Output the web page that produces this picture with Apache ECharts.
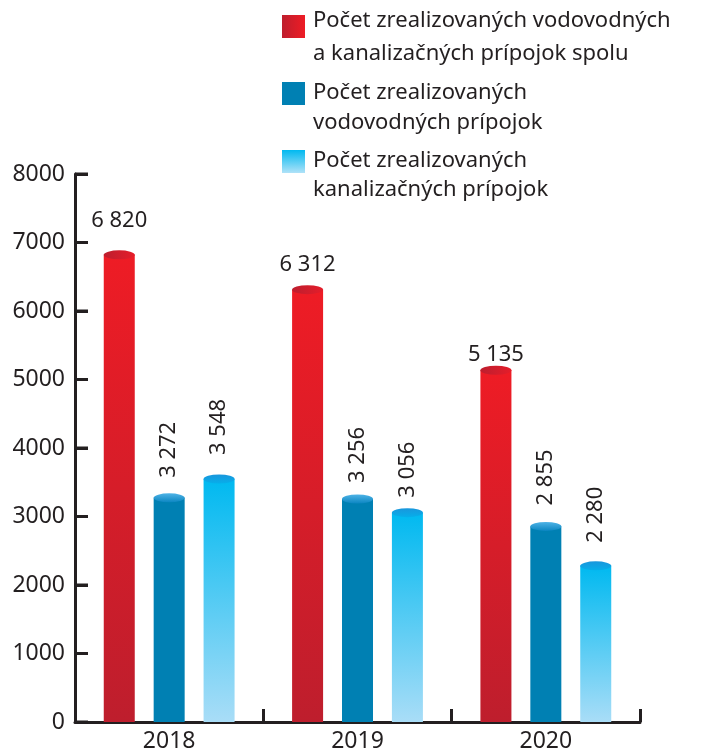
<!DOCTYPE html>
<html>
<head>
<meta charset="utf-8">
<script src="https://cdn.jsdelivr.net/npm/echarts@6/dist/echarts.min.js"></script>
<style>
  html, body { margin: 0; padding: 0; background: #fff; }
  #chart { width: 702px; height: 753px; }
</style>
</head>
<body>
<div id="chart"></div>
<script>
// roky
var years = ['2018', '2019', '2020'];
// spolu, vodovodne, kanalizacne
var spolu = [6820, 6312, 5135];
var vodovodne = [3272, 3256, 2855];
var kanalizacne = [3548, 3056, 2280];
var nazvy = [
    ['Počet zrealizovaných vodovodných', 'a kanalizačných prípojok spolu'],
    ['Počet zrealizovaných', 'vodovodných prípojok'],
    ['Počet zrealizovaných', 'kanalizačných prípojok']
];
var yTicks = { min: 0, max: 8000, interval: 1000 };

// odstupy popisov od stlpca (rucne ako v predlohe)
var distSpolu = [23, 14, 5];
var distVod = [20, 16, 21];
var distKan = [24, 15, 23];

var TXT = '#231f20';
var FONT = 'Noto Sans';
var GRID_LEFT = 75;

function grad(x2, y2, c0, c1) {
    return new echarts.graphic.LinearGradient(0, 0, x2, y2, [
        { offset: 0, color: c0 },
        { offset: 1, color: c1 }
    ]);
}

//cislo s medzerou
function fmt(p) {
    return String(p.value).replace(/\B(?=(\d{3})+(?!\d))/g, ' ');
}

function sDist(vals, dist) {
    return vals.map(function (v, i) {
        return { value: v, label: { distance: dist[i] } };
    });
}

var barW = 31;
var gap = '61%';

function stlpec(name, data, color, label) {
    return {
        name: name,
        type: 'bar',
        data: data,
        barWidth: barW,
        barGap: gap,
        itemStyle: { color: color },
        label: label,
        z: 2
    };
}

function vrch(name, data, color) {
    return {
        name: name,
        type: 'pictorialBar',
        data: data,
        symbol: 'circle',
        symbolSize: [barW, 9],
        symbolPosition: 'end',
        symbolOffset: [0, '-50%'],
        barWidth: barW,
        barGap: gap,
        itemStyle: { color: color },
        z: 3,
        silent: true
    };
}

var rotLabel = {
    show: true,
    position: 'top',
    rotate: 90,
    align: 'left',
    verticalAlign: 'middle',
    fontSize: 22,
    fontFamily: FONT,
    color: TXT,
    formatter: fmt
};

// legenda - ikony a texty
var legY = [15, 82, 150];
var legBase = [[28, 61], [100, 130], [168, 197]];
var legColors = [
    grad(1, 0, '#be1e2d', '#ee1c25'),
    '#0080b3',
    grad(0, 1, '#00b9f0', '#b0e2f8')
];
var legenda = [];
for (var i = 0; i < nazvy.length; i++) {
    legenda.push({
        type: 'rect',
        shape: { x: 282, y: legY[i], width: 23, height: 23 },
        style: { fill: legColors[i] }
    });
    for (var j = 0; j < nazvy[i].length; j++) {
        legenda.push({
            type: 'text',
            x: 313,
            y: legBase[i][j] - 7,
            style: {
                text: nazvy[i][j],
                font: '22px "Noto Sans"',
                fill: TXT,
                verticalAlign: 'middle'
            }
        });
    }
}

var myChart = echarts.init(document.getElementById('chart'));
myChart.setOption({
    animation: false,
    grid: { left: GRID_LEFT, right: 62, top: 174, bottom: 31 },
    graphic: legenda,
    xAxis: {
        type: 'category',
        data: years,
        axisLine: { lineStyle: { color: TXT, width: 3 } },
        axisTick: { show: true, inside: true, length: 13, lineStyle: { color: TXT, width: 3 } },
        axisLabel: { fontSize: 23, fontFamily: FONT, color: TXT, margin: 8 }
    },
    yAxis: {
        type: 'value',
        min: yTicks.min,
        max: yTicks.max,
        interval: yTicks.interval,
        splitLine: { show: false },
        axisLine: { show: true, lineStyle: { color: TXT, width: 3 } },
        axisTick: { show: true, inside: true, length: 13, lineStyle: { color: TXT, width: 3 } },
        axisLabel: {
            fontSize: 23, fontFamily: FONT, color: TXT, margin: 10,
            formatter: function (v) { return String(v); }
        }
    },
    series: [
        stlpec(nazvy[0].join(' '), sDist(spolu, distSpolu), grad(0, 1, '#ee1c25', '#be1e2d'), {
            show: true, position: 'top',
            fontSize: 22, fontFamily: FONT, color: TXT, formatter: fmt
        }),
        stlpec(nazvy[1].join(' '), sDist(vodovodne, distVod), '#0080b3', rotLabel),
        stlpec(nazvy[2].join(' '), sDist(kanalizacne, distKan), grad(0, 1, '#00b9f0', '#a9ddf7'), rotLabel),
        vrch('v1', spolu, grad(1, 0, '#bd1e2e', '#e51d2a')),
        vrch('v2', vodovodne, grad(0, 1, '#4fb3e6', '#0b86c2')),
        vrch('v3', kanalizacne, grad(0, 1, '#1a96dc', '#06aeea'))
    ]
});

//ciarky na osi y - priamo do zrender, poloha zo skaly osi
var zr = myChart.getZr();
for (var v = yTicks.min; v <= yTicks.max; v += yTicks.interval) {
    var py = myChart.convertToPixel({ yAxisIndex: 0 }, v);
    zr.add(new echarts.graphic.Line({
        shape: { x1: GRID_LEFT, y1: py, x2: GRID_LEFT + 13, y2: py },
        style: { stroke: TXT, lineWidth: 3 },
        z: 100,
        silent: true
    }));
}
</script>
</body>
</html>
